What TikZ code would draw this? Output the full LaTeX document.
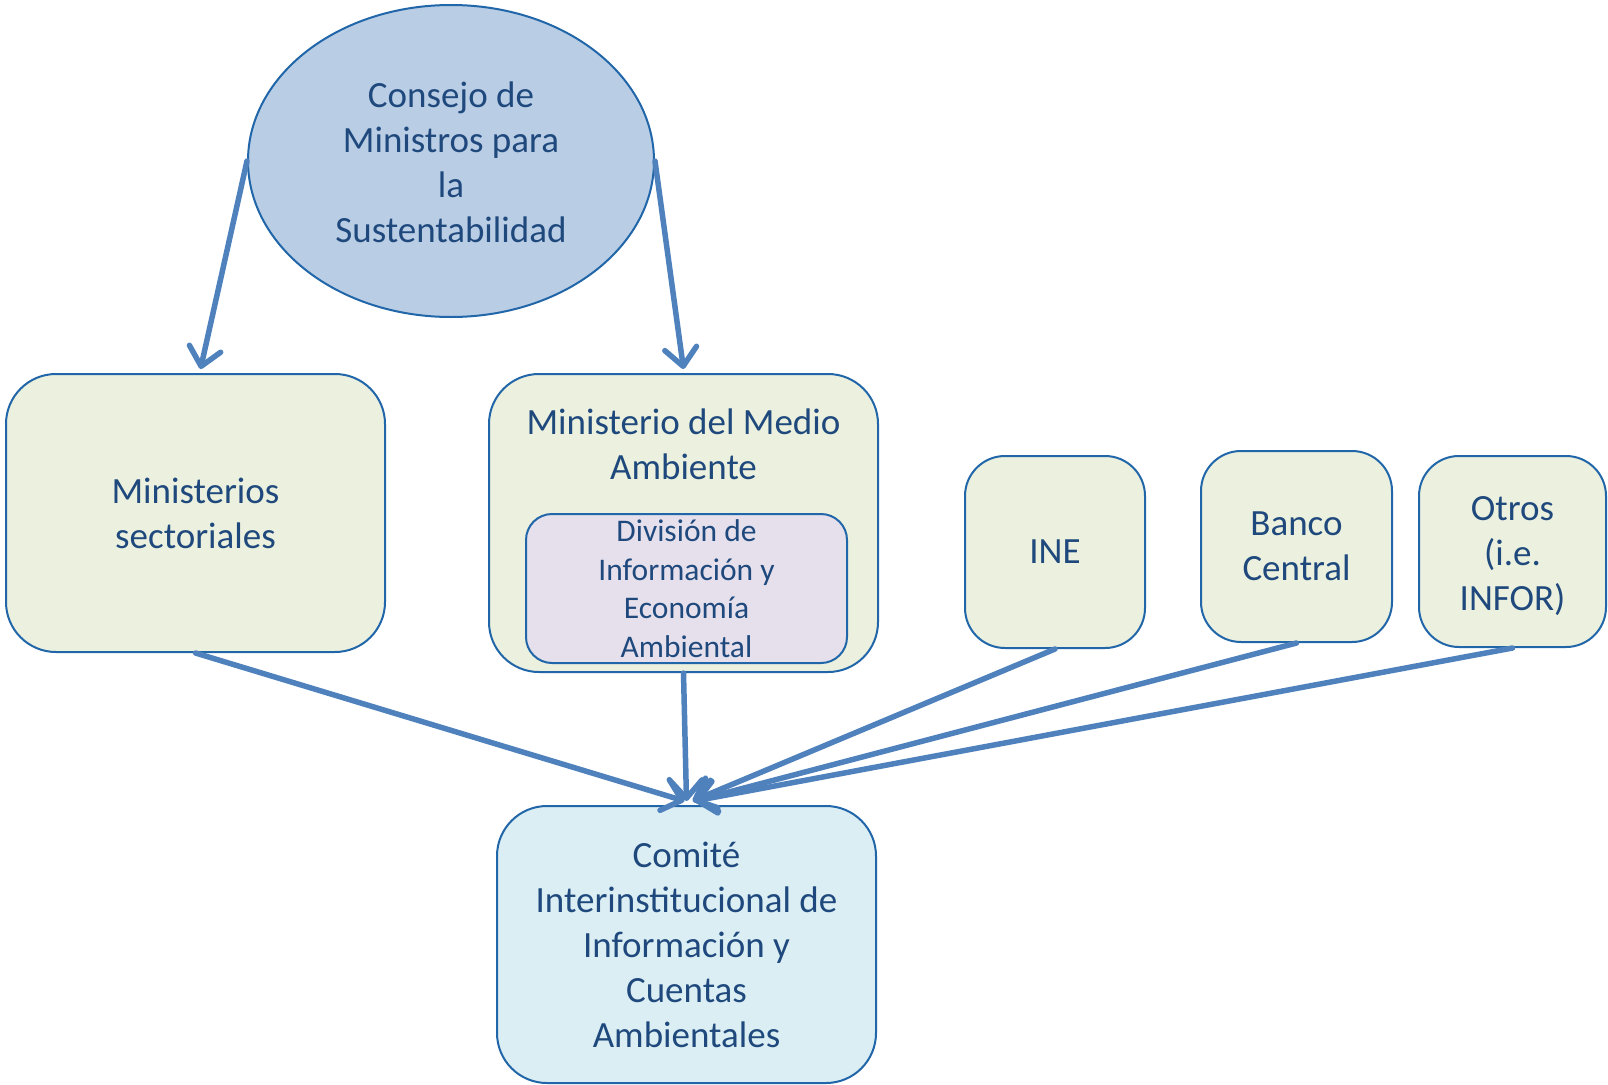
\documentclass[tikz,border=0pt]{standalone}
\usepackage{fontspec}
\setmainfont{Carlito}
\usetikzlibrary{arrows.meta,shapes.geometric,calc}
\definecolor{txt}{HTML}{1F497D}
\definecolor{bord}{HTML}{2166A8}
\definecolor{arr}{HTML}{4F81BD}
\definecolor{olive}{HTML}{EBF1DE}
\definecolor{lilac}{HTML}{E5E0EC}
\definecolor{ellfill}{HTML}{B9CDE5}
\definecolor{aqua}{HTML}{DBEEF4}
\tikzset{
  base/.style={draw=bord, line width=2pt, text=txt, align=center, inner sep=0pt,
    font=\fontsize{37}{45}\selectfont},
  bigbox/.style={base, rectangle, rounded corners=50pt, fill=olive},
  smallbox/.style={base, rectangle, rounded corners=40pt, fill=olive},
  innerbox/.style={base, rectangle, rounded corners=26pt, fill=lilac,
    font=\fontsize{31.5}{38.5}\selectfont},
  txtonly/.style={text=txt, align=center, inner sep=0pt, font=\fontsize{37}{45}\selectfont},
  conn/.style={draw=arr, line width=5.5pt, line cap=round, line join=round,
    -{Straight Barb[length=18pt,width=32pt,line cap=round,line join=round]}}
}
\begin{document}
\begin{tikzpicture}[x=1pt,y=-1pt]
\useasboundingbox (0,0) rectangle (1608,1084);
% ellipse
\node[base, ellipse, fill=ellfill, minimum width=406pt, minimum height=312pt] (ell) at (451,161) {};
\node[txtonly] (elltext) at (451,162) {Consejo de\\Ministros para\\la\\Sustentabilidad};
% boxes
\node[bigbox, minimum width=379pt, minimum height=278pt] (ms) at (195.5,513) {Ministerios\\sectoriales};
\node[bigbox, minimum width=389pt, minimum height=298pt] (mma) at (683.5,523) {};
\node[txtonly] (mmatext) at (683.5,444) {Ministerio del Medio\\Ambiente};
\node[innerbox, minimum width=321pt, minimum height=149pt] (div) at (686.5,588.5) {División de\\Información y\\Economía\\Ambiental};
\node[smallbox, minimum width=180pt, minimum height=192pt] (ine) at (1055,552) {INE};
\node[smallbox, minimum width=191pt, minimum height=191pt] (bc) at (1296.5,546.5) {Banco\\Central};
\node[smallbox, minimum width=187pt, minimum height=191pt] (ot) at (1512.5,551.5) {};
\node[txtonly] (ottext) at (1512.5,556) {Otros\\(i.e.\\INFOR)};
\node[bigbox, fill=aqua, minimum width=379pt, minimum height=277pt] (com) at (686.5,944.5) {Comité\\Interinstitucional de\\Información y\\Cuentas\\Ambientales};
% connectors
\draw[conn] (ell.west) -- ($(ms.north)+(5,-4)$);
\draw[conn] (ell.east) -- ($(mma.north)+(0,-4)$);
\draw[conn] (ms.south) -- ($(com.north)+(-2,-4)$);
\draw[conn] (mma.south) -- ($(com.north)+(0,-4)$);
\draw[conn] (ine.south) -- ($(com.north)+(6,-4)$);
\draw[conn] (bc.south) -- ($(com.north)+(8,-4)$);
\draw[conn] (ot.south) -- ($(com.north)+(8,-4)$);
\end{tikzpicture}
\end{document}
